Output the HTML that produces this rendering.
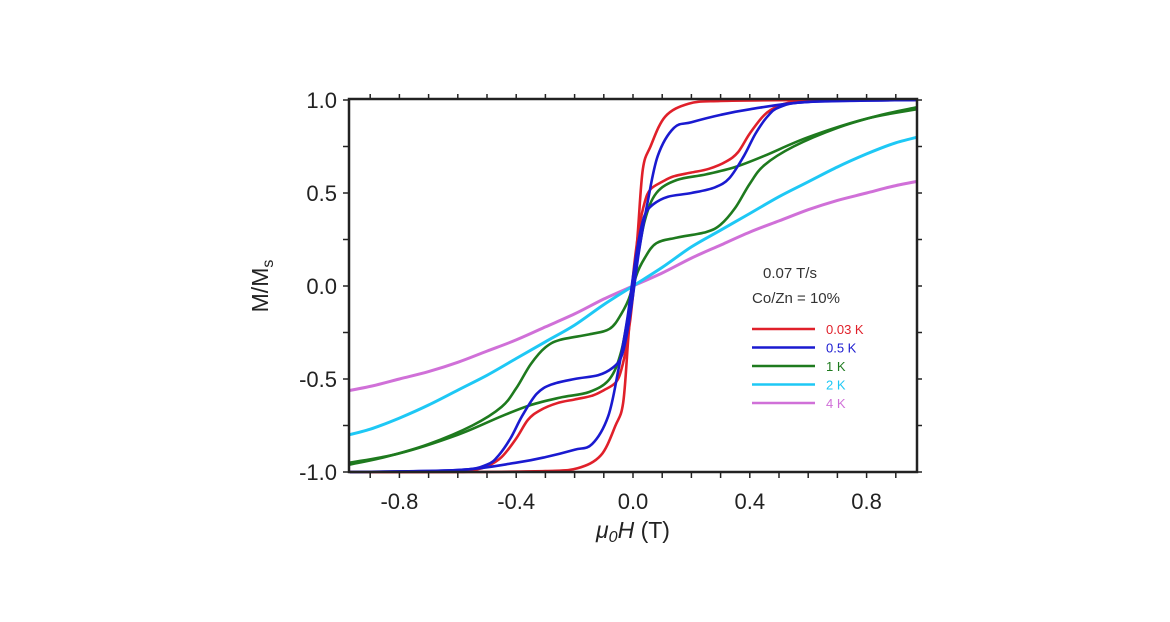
<!DOCTYPE html>
<html><head><meta charset="utf-8"><style>
html,body{margin:0;padding:0;background:#fff;}
svg{display:block;font-family:"Liberation Sans",sans-serif;}
</style></head><body>
<svg id="chart" width="1170" height="622">
<g id="grid"></g>
<g id="curves" clip-path="url(#clip)"></g>
<defs><clipPath id="clip"><rect x="349" y="97" width="568" height="377"/></clipPath></defs>
<rect x="349" y="99" width="568" height="373" fill="none" stroke="#222" stroke-width="2.5"/>
<g id="axes"></g>
<text x="268" y="286" font-size="23" fill="#222" text-anchor="middle" transform="rotate(-90 268 286)">M/M<tspan font-size="16" dy="5">s</tspan></text>
<text x="633" y="538" font-size="23" fill="#222" text-anchor="middle"><tspan font-style="italic">μ<tspan font-size="16" dy="4">0</tspan><tspan dy="-4">H</tspan></tspan> (T)</text>
<text x="790" y="278" font-size="15" fill="#333" text-anchor="middle">0.07 T/s</text>
<text x="796" y="303" font-size="15" fill="#333" text-anchor="middle">Co/Zn = 10%</text>
<g id="legend"></g>
</svg>
<script>
const seriesNames=["0.03 K","0.5 K","1 K","2 K","4 K"];
const seriesColors=["#e0202a","#1a1ad0","#1e7a1e","#1ec8f5","#d070d8"];
// ascending branches (field increasing); descending branch is the mirror image
const redH=[-0.97,-0.6,-0.3,-0.19,-0.11,-0.06,-0.034,-0.017,0,0.02,0.04,0.06,0.1,0.14,0.2,0.26,0.32,0.36,0.4,0.45,0.5,0.55,0.6,0.97];
const redM=[-1,-1,-0.995,-0.98,-0.91,-0.75,-0.63,-0.3,0.05,0.3,0.45,0.52,0.56,0.59,0.61,0.63,0.67,0.72,0.82,0.92,0.97,0.99,1,1];
const blueH=[-0.97,-0.6,-0.4,-0.3,-0.2,-0.14,-0.085,-0.05,-0.02,0,0.02,0.04,0.07,0.12,0.2,0.28,0.33,0.38,0.42,0.46,0.5,0.6,0.97];
const blueM=[-1,-0.99,-0.95,-0.92,-0.88,-0.85,-0.7,-0.45,-0.18,0.05,0.25,0.38,0.44,0.48,0.5,0.53,0.58,0.7,0.82,0.91,0.96,0.99,1];
const greenH=[-0.97,-0.8,-0.6,-0.45,-0.35,-0.25,-0.15,-0.08,-0.04,-0.01,0.01,0.04,0.08,0.15,0.25,0.3,0.35,0.4,0.45,0.55,0.7,0.85,0.97];
const greenM=[-0.95,-0.9,-0.8,-0.7,-0.64,-0.6,-0.57,-0.5,-0.35,-0.1,0.05,0.15,0.23,0.26,0.29,0.33,0.42,0.55,0.65,0.75,0.85,0.92,0.96];
const cyanH=[0,0.1,0.2,0.3,0.4,0.5,0.6,0.7,0.8,0.9,1.0];
const cyanM=[0,0.1,0.21,0.3,0.39,0.48,0.56,0.64,0.71,0.77,0.81];
const magH=[0,0.1,0.2,0.3,0.4,0.5,0.6,0.7,0.8,0.9,1.0];
const magM=[0,0.07,0.15,0.22,0.29,0.35,0.41,0.46,0.5,0.54,0.57];
const xTicks=[-0.8,-0.4,0.0,0.4,0.8];
const yTicks=[1.0,0.5,0.0,-0.5,-1.0];

const X=h=>633+292*h, Y=m=>286-186*m;
const NS="http://www.w3.org/2000/svg";
function mk(tag,attrs,parent){const e=document.createElementNS(NS,tag);for(const k in attrs)e.setAttribute(k,attrs[k]);parent.appendChild(e);return e;}
function smooth(pts){let d="M"+pts[0][0].toFixed(1)+","+pts[0][1].toFixed(1);
 for(let i=0;i<pts.length-1;i++){const p0=pts[Math.max(0,i-1)],p1=pts[i],p2=pts[i+1],p3=pts[Math.min(pts.length-1,i+2)];
  const c1=[p1[0]+(p2[0]-p0[0])/6,p1[1]+(p2[1]-p0[1])/6],c2=[p2[0]-(p3[0]-p1[0])/6,p2[1]-(p3[1]-p1[1])/6];
  d+="C"+c1.map(v=>v.toFixed(1))+" "+c2.map(v=>v.toFixed(1))+" "+p2.map(v=>v.toFixed(1));}
 return d;}
const curves=document.getElementById("curves");
function loop(H,M,color,name){
 const asc=H.map((h,i)=>[X(h),Y(M[i])]);
 const desc=H.map((h,i)=>[X(-h),Y(-M[i])]);
 const p1=mk("path",{d:smooth(asc),fill:"none",stroke:color,"stroke-width":2.6},curves);
 
 
 const p2=mk("path",{d:smooth(desc),fill:"none",stroke:color,"stroke-width":2.6},curves);
 
 
}
function odd(H,M,color,name){
 const pts=[];for(let i=H.length-1;i>0;i--)pts.push([X(-H[i]),Y(-M[i])]);
 H.forEach((h,i)=>pts.push([X(h),Y(M[i])]));
 const p=mk("path",{d:smooth(pts),fill:"none",stroke:color,"stroke-width":3},curves);
 
 
}
odd(magH,magM,seriesColors[4],"curve-4k");
odd(cyanH,cyanM,seriesColors[3],"curve-2k");
loop(greenH,greenM,seriesColors[2],"curve-1k");
loop(redH,redM,seriesColors[0],"curve-0-03k");
loop(blueH,blueM,seriesColors[1],"curve-0-5k");

const axes=document.getElementById("axes");
for(let k=-9;k<=9;k++){const x=X(k/10);
 const t=mk("line",{x1:x,x2:x,y1:472,y2:478,stroke:"#222","stroke-width":1.5},axes);
 
 
 const t2=mk("line",{x1:x,x2:x,y1:99,y2:94,stroke:"#222","stroke-width":1.5},axes);
 
 }
for(let k=-4;k<=4;k++){const y=Y(k/4);
 const t=mk("line",{x1:343,x2:349,y1:y,y2:y,stroke:"#222","stroke-width":1.5},axes);
 
 
 const t2=mk("line",{x1:917,x2:922,y1:y,y2:y,stroke:"#222","stroke-width":1.5},axes);
 
 }
xTicks.forEach(v=>{const t=mk("text",{x:X(v),y:509,"font-size":22,fill:"#222","text-anchor":"middle"},axes);
 t.textContent=v.toFixed(1);
 
 });
yTicks.forEach(v=>{const t=mk("text",{x:337,y:Y(v)+8,"font-size":22,fill:"#222","text-anchor":"end"},axes);
 t.textContent=v.toFixed(1);
 
 });
const lg=document.getElementById("legend");
seriesNames.forEach((n,i)=>{const y=329+18.5*i;
 const l=mk("line",{x1:752,x2:815,y1:y,y2:y,stroke:seriesColors[i],"stroke-width":2.6},lg);
 
 
 const t=mk("text",{x:826,y:y+5,"font-size":13,fill:seriesColors[i]},lg);
 t.textContent=n;
 
 });
</script>
</body></html>
